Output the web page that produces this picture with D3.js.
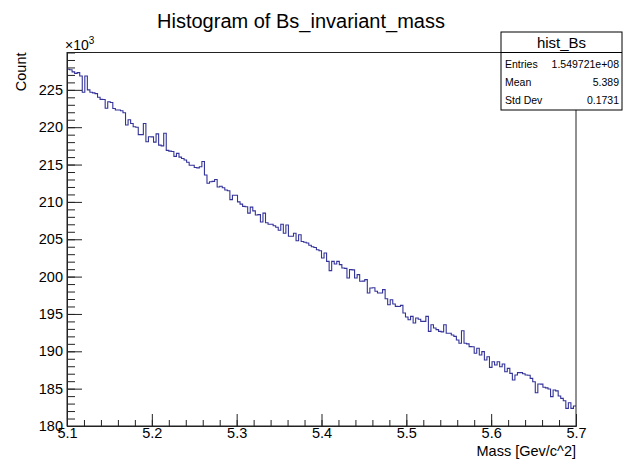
<!DOCTYPE html>
<html><head><meta charset="utf-8">
<script src="https://cdn.jsdelivr.net/npm/d3@7"></script>
<style>body{margin:0;background:#fff}</style>
</head><body>
<svg id="c" width="624" height="461"></svg>
<script>
// ---- data (counts in units of 10^3) ----
const xRange = [5.1, 5.7];
const counts = [
227.75,227.7,227.4,227.2,227.3,226.85,224.67,226.85,225.0,224.67,
224.6,224.5,224.0,223.73,223.7,222.53,223.4,223.3,222.5,222.3,
222.3,222.2,221.94,220.3,221.0,220.5,220.07,220.0,219.0,219.0,
220.5,218.06,218.73,218.7,218.0,219.1,217.6,217.5,219.2,216.9,
216.8,216.75,216.1,216.5,216.0,215.8,215.6,215.3,214.9,214.9,
214.6,214.55,214.7,215.4,213.6,212.5,212.7,212.75,213.0,212.0,
212.1,211.9,211.6,211.5,210.3,210.9,210.9,210.0,209.7,209.4,
209.35,208.5,209.3,208.8,208.25,208.3,207.3,208.5,207.2,207.0,
207.0,206.8,206.6,206.2,207.0,205.8,206.9,205.4,205.4,205.8,
204.8,205.6,204.7,204.6,204.5,204.2,204.0,203.9,203.6,203.47,
202.5,203.16,202.04,200.8,202.04,201.69,202.04,201.6,201.15,201.1,
199.81,200.93,200.9,199.81,200.26,199.37,199.4,199.59,197.8,198.47,
198.5,198.03,197.8,197.8,198.25,197.04,196.24,196.91,196.33,196.02,
196.0,196.15,195.13,194.6,194.23,194.68,193.79,194.46,194.3,194.0,
194.0,194.68,192.67,193.56,193.12,192.9,192.67,192.6,193.56,192.41,
192.41,192.18,192.0,191.51,191.07,192.76,191.07,191.0,190.62,190.6,
189.73,190.4,189.5,189.95,188.84,189.28,187.85,188.61,188.17,188.61,
187.94,188.3,187.27,187.72,187.05,186.16,186.83,187.14,187.14,187.0,
186.83,186.8,186.38,185.93,184.46,185.62,185.6,185.18,185.1,184.95,
183.93,184.82,184.7,184.02,183.7,183.39,182.36,183.12,182.36,182.68
];
const yMajorTicks = [180,185,190,195,200,205,210,215,220,225];
const yMinorTicks = d3.range(180,231,1);
const xMajorTicks = [5.1,5.2,5.3,5.4,5.5,5.6,5.7];
const xMinorTicks = d3.range(0,31).map(i => 5.1 + i*0.02);
const titleText = "Histogram of Bs_invariant_mass";
const xLabel = "Mass [Gev/c^2]";
const yLabel = "Count";
const statsName = "hist_Bs";
const statsLabels = ["Entries","Mean","Std Dev"];
const statsValues = ["1.549721e+08","5.389","0.1731"];

// ---- drawing ----
const font = "'Liberation Sans', Arial, Helvetica, sans-serif";
const svg = d3.select("#c");
const L = 67, R = 576, T = 52.5, B = 426;
const x = d3.scaleLinear().domain(xRange).range([L, R]);
const y = d3.scaleLinear().domain([180, 230]).range([B, T]);
const axisColor = "#222";

// histogram
const nb = counts.length;
const bw = (xRange[1]-xRange[0])/nb;
const pts = counts.map((v,i)=>[xRange[0]+i*bw, v]);
pts.push([xRange[1], counts[nb-1]]);
const line = d3.line().x(d=>x(d[0])).y(d=>y(d[1])).curve(d3.curveStepAfter);
svg.append("path").attr("d", line(pts)).attr("fill","none")
  .attr("stroke","#333399").attr("stroke-width",1.1);

// frame
svg.append("rect").attr("x",L).attr("y",T).attr("width",R-L).attr("height",B-T)
  .attr("fill","none").attr("stroke",axisColor).attr("stroke-width",1);

// y axis
const yMinor = svg.append("g").attr("transform",`translate(${L},0)`)
  .call(d3.axisLeft(y).tickValues(yMinorTicks).tickSizeInner(-8).tickSizeOuter(0).tickFormat(""));
const yMajor = svg.append("g").attr("transform",`translate(${L},0)`)
  .call(d3.axisLeft(y).tickValues(yMajorTicks).tickSizeInner(-15).tickSizeOuter(0).tickPadding(4).tickFormat(d3.format("d")));
[yMinor,yMajor].forEach(g=>{g.select(".domain").attr("stroke",axisColor);g.selectAll("line").attr("stroke",axisColor);});
yMajor.selectAll("text").attr("font-family",font).attr("font-size","14.5px").attr("fill","#000");

// x axis
const xMinor = svg.append("g").attr("transform",`translate(0,${B})`)
  .call(d3.axisBottom(x).tickValues(xMinorTicks).tickSizeInner(-6).tickSizeOuter(0).tickFormat(""));
const xMajor = svg.append("g").attr("transform",`translate(0,${B})`)
  .call(d3.axisBottom(x).tickValues(xMajorTicks).tickSizeInner(-12).tickSizeOuter(0).tickPadding(2).tickFormat(d3.format(".1f")));
[xMinor,xMajor].forEach(g=>{g.select(".domain").attr("stroke",axisColor);g.selectAll("line").attr("stroke",axisColor);});
xMajor.selectAll("text").attr("font-family",font).attr("font-size","14.5px").attr("fill","#000");

// exponent label
const ex = svg.append("text").attr("x",65).attr("y",50).attr("font-family",font).attr("font-size","14px");
ex.append("tspan").text("\u00d710");
ex.append("tspan").attr("dy",-6).attr("font-size","10px").text("3");

// axis titles
svg.append("text").attr("x",R).attr("y",456).attr("text-anchor","end")
  .attr("font-family",font).attr("font-size","14.5px").text(xLabel);
svg.append("text").attr("transform",`translate(26,${T}) rotate(-90)`).attr("text-anchor","end")
  .attr("font-family",font).attr("font-size","14.5px").text(yLabel);

// title
svg.append("text").attr("x",301).attr("y",28).attr("text-anchor","middle")
  .attr("font-family",font).attr("font-size","20px").text(titleText);

// stats box
const sx0 = 501, sx1 = 622, sy0 = 32, sy1 = 110, sHead = 52.5;
svg.append("rect").attr("x",sx0).attr("y",sy0).attr("width",sx1-sx0).attr("height",sy1-sy0)
  .attr("fill","#fff").attr("stroke","#000").attr("stroke-width",1);
svg.append("line").attr("x1",sx0).attr("x2",sx1).attr("y1",sHead).attr("y2",sHead).attr("stroke","#000");
svg.append("text").attr("x",(sx0+sx1)/2).attr("y",48).attr("text-anchor","middle")
  .attr("font-family",font).attr("font-size","15px").text(statsName);
const rowY = [68, 86, 104];
statsLabels.forEach((s,i)=>{
  svg.append("text").attr("x",505).attr("y",rowY[i]).attr("font-family",font).attr("font-size","10.5px").text(s);
  svg.append("text").attr("x",619).attr("y",rowY[i]).attr("text-anchor","end").attr("font-family",font).attr("font-size","10.5px").text(statsValues[i]);
});
</script>
</body></html>
